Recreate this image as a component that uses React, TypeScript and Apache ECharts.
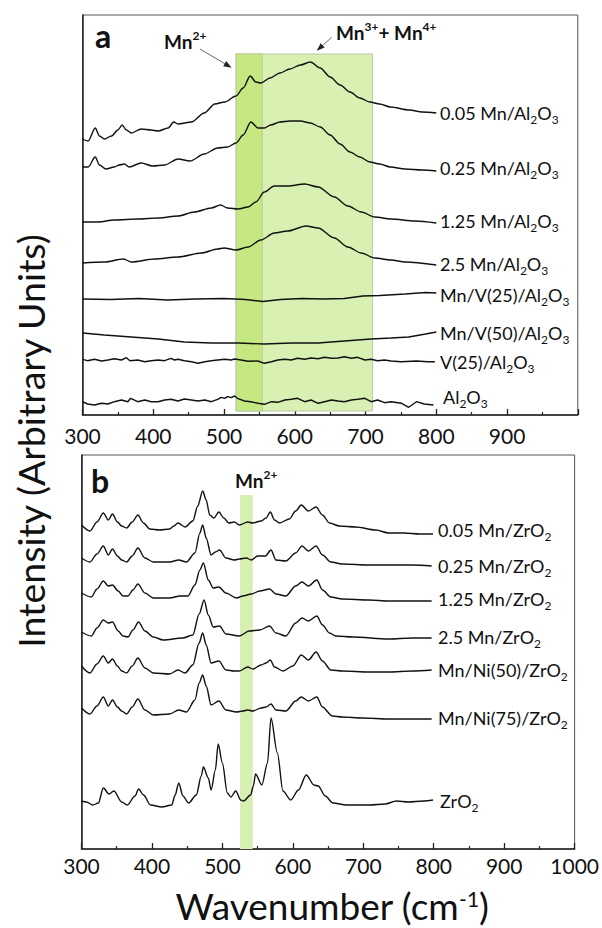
import React, { useEffect, useRef } from 'react';
import * as echarts from 'echarts';

const FONT = "Lato, 'Open Sans', sans-serif";

// ---------- Panel a: Mn/Al2O3 series  [wavenumber cm-1, stacked intensity (a.u.)]
const a_005Mn = [[300,276],[308,274],[318,287],[324,279],[331,276],[341,279],[350,285],[356,290],[362,285],[369,282],[383,286],[397,285],[407,284],[421,287],[429,293],[435,291],[454,293],[472,302],[487,311],[501,313],[517,319],[527,327],[537,339],[545,333],[552,332],[565,337],[579,342],[593,346],[608,350],[622,353],[636,347],[650,338],[664,330],[678,323],[692,317],[706,313],[720,311],[735,308],[762,305],[780,303],[800,302]];
const a_025Mn = [[300,248],[308,248],[318,258],[324,250],[333,246],[345,248],[352,250],[359,251],[366,248],[383,252],[399,249],[416,250],[435,256],[452,254],[472,261],[491,267],[505,268],[517,272],[527,280],[538,293],[548,287],[557,287],[566,290],[579,293],[593,294],[608,294],[622,292],[636,288],[650,280],[664,271],[678,263],[692,258],[706,253],[720,251],[735,248],[756,246],[780,245],[800,244]];
const a_125Mn = [[300,193],[322,193],[345,195],[378,196],[407,197],[435,199],[458,203],[482,207],[495,210],[505,207],[520,206],[534,208],[545,213],[557,223],[571,229],[590,229],[614,231],[633,228],[656,218],[675,209],[694,203],[713,198],[736,196],[770,194],[800,192]];
const a_25Mn = [[300,152],[331,153],[358,156],[369,153],[402,156],[435,158],[468,162],[491,166],[500,167],[517,165],[534,168],[552,175],[571,182],[590,184],[616,189],[633,187],[656,177],[675,168],[694,162],[713,157],[736,155],[756,153],[800,150]];
const a_MnV25 = [[300,116],[340,115.5],[380,116.5],[420,115],[460,116],[500,116.5],[530,115.5],[555,113.5],[580,115.5],[610,116.5],[640,116],[670,116.5],[696,119],[720,119.5],[756,121],[785,122.5],[800,122]];
const a_MnV50 = [[300,82],[331,80],[369,78],[407,76],[444,73],[482,72],[520,72],[557,71],[595,72],[633,72],[670,74],[708,76],[736,77],[761,78],[785,81],[800,83]];
const a_V25 = [[300,55.7],[307,54.3],[317,55.7],[327,54],[336,55],[345,56.3],[355,55],[362,57.3],[367,54.3],[378,55],[388,53.3],[397,54.3],[407,55],[416,54.3],[425,56.7],[430,55],[435,55.7],[444,54.3],[454,53.3],[463,51.7],[473,53.3],[482,54.3],[491,55],[501,55.7],[510,55],[515,56],[524,55],[534,53.7],[548,54],[557,51.7],[567,53.3],[576,55],[586,55.7],[595,55],[604,56.7],[614,55.7],[623,57],[633,56.3],[642,57.7],[652,56.7],[661,57],[670,58.3],[680,56.7],[689,57.7],[699,55],[708,55.7],[717,54.3],[727,55],[736,54],[750,53.3],[772,54],[788,53.3],[798,53.3]];
const a_Al2O3 = [[300,13.3],[307,11],[317,10],[327,11.7],[336,11],[345,13.3],[355,15],[364,13.3],[368,16.7],[378,13.3],[388,15],[397,13.3],[407,13.3],[416,15],[425,15.7],[435,14],[444,16],[454,15],[463,14],[473,15],[482,13.3],[491,15.7],[496,17.7],[501,16.7],[505,18.3],[510,17.3],[515,19],[519,16.7],[529,14],[538,13.3],[548,11.7],[557,10.7],[567,13.3],[576,12.7],[586,15],[595,15.7],[604,16.7],[614,13.3],[623,15],[633,11.7],[642,13.3],[652,15],[661,14],[670,13.3],[680,15],[689,15.7],[699,16.7],[708,13.3],[717,15],[727,12.3],[736,13.3],[751,11.7],[761,7.7],[772,13.3],[783,11],[796,10]];

// ---------- Panel b: Mn/ZrO2 series
const b_005Mn = [[300,324],[312,318],[322,327],[331,336],[338,329],[344,335],[351,327],[357,323],[364,321],[372,327],[380,334],[388,326],[397,320],[411,319],[425,320],[431,323],[437,326],[447,322],[458,328],[465,343],[472,358],[477,349],[482,334],[488,331],[495,337],[502,331],[509,326],[517,327],[524,324],[536,327],[543,326],[555,328],[562,331],[568,337],[574,329],[581,326],[595,330],[604,338],[612,344],[622,338],[633,342],[642,334],[652,326],[666,323],[689,322],[718,319],[736,316],[758,316],[780,315],[799,315]];
const b_025Mn = [[300,291],[312,287],[322,295],[331,303],[338,294],[344,300],[351,293],[357,289],[364,287],[372,293],[380,301],[390,291],[402,287],[425,287],[438,289],[449,287],[461,296],[468,316],[472,324],[477,311],[484,294],[490,297],[496,299],[505,291],[517,289],[524,290],[534,291],[541,289],[550,293],[561,293],[569,299],[576,289],[590,288],[604,296],[613,303],[622,298],[633,303],[642,294],[654,287],[670,285],[708,284],[736,284],[770,284],[797,283]];
const b_125Mn = [[300,256],[314,252],[322,260],[331,268],[338,263],[344,264],[352,258],[359,253],[366,253],[373,259],[380,265],[390,256],[402,251],[425,251],[440,253],[451,253],[461,264],[468,279],[473,286],[480,269],[487,261],[495,262],[505,256],[520,251],[529,253],[541,255],[553,258],[567,260],[576,255],[590,253],[604,263],[613,267],[622,263],[634,269],[642,259],[654,252],[670,250],[708,249],[736,248],[770,248],[797,248]];
const b_25Mn = [[300,217],[314,213],[322,221],[331,229],[338,226],[344,227],[352,218],[359,213],[366,212],[373,219],[381,227],[390,218],[402,212],[416,209],[444,211],[458,214],[467,235],[474,249],[480,234],[487,222],[496,223],[505,215],[524,213],[538,218],[553,219],[567,223],[576,216],[590,213],[604,226],[613,231],[622,228],[634,233],[642,224],[652,216],[661,213],[685,212],[736,210],[770,211],[797,211]];
const b_MnNi50 = [[300,183],[312,176],[322,185],[331,193],[338,186],[344,190],[351,183],[357,178],[364,176],[372,183],[380,191],[390,181],[402,176],[425,175],[437,179],[447,176],[458,184],[467,206],[472,216],[477,204],[484,186],[495,188],[505,179],[517,178],[524,178],[536,182],[543,180],[555,184],[562,186],[568,189],[574,182],[586,178],[600,183],[612,194],[622,189],[633,197],[642,188],[654,179],[670,178],[708,177],[736,177],[770,178],[797,179]];
const b_MnNi75 = [[300,141],[312,135],[322,143],[331,152],[338,143],[344,149],[351,142],[357,138],[364,135],[372,142],[380,150],[390,139],[402,134],[425,135],[438,139],[449,137],[461,149],[467,166],[472,174],[477,163],[484,144],[495,148],[505,139],[520,137],[529,138],[536,139],[543,138],[555,141],[562,142],[569,145],[576,139],[590,138],[604,148],[612,152],[622,148],[634,152],[642,142],[656,133],[670,132],[699,131],[736,130],[770,130],[797,130]];
const b_ZrO2 = [[300,48],[307,47],[316,44],[324,46],[331,61],[339,55],[346,58],[357,47],[365,44],[376,53],[381,60],[388,54],[398,44],[414,42],[428,44],[433,54],[438,66],[444,53],[452,46],[463,54],[470,73],[473,82],[480,71],[484,59],[490,79],[494,105],[500,86],[507,56],[512,52],[519,58],[526,49],[530,48],[540,54],[544,63],[547,75],[556,64],[564,86],[569,131],[578,96],[586,58],[597,49],[608,59],[619,74],[630,64],[636,63],[646,53],[657,46],[676,44],[709,44],[731,45],[747,48],[764,47],[785,48],[799,49]];

const seriesA = [a_005Mn, a_025Mn, a_125Mn, a_25Mn, a_MnV25, a_MnV50, a_V25, a_Al2O3];
const noisyA = [false, false, false, false, true, true, true, true];
const seriesB = [b_005Mn, b_025Mn, b_125Mn, b_25Mn, b_MnNi50, b_MnNi75, b_ZrO2];

const labelsA = [
  '{n|0.05 Mn/Al}{s|2}{n|O}{s|3}',
  '{n|0.25 Mn/Al}{s|2}{n|O}{s|3}',
  '{n|1.25 Mn/Al}{s|2}{n|O}{s|3}',
  '{n|2.5 Mn/Al}{s|2}{n|O}{s|3}',
  '{n|Mn/V(25)/Al}{s|2}{n|O}{s|3}',
  '{n|Mn/V(50)/Al}{s|2}{n|O}{s|3}',
  '{n|V(25)/Al}{s|2}{n|O}{s|3}',
  '{n|Al}{s|2}{n|O}{s|3}',
];
const labelsB = [
  '{n|0.05 Mn/ZrO}{s|2}',
  '{n|0.25 Mn/ZrO}{s|2}',
  '{n|1.25 Mn/ZrO}{s|2}',
  '{n|2.5 Mn/ZrO}{s|2}',
  '{n|Mn/Ni(50)/ZrO}{s|2}',
  '{n|Mn/Ni(75)/ZrO}{s|2}',
  '{n|ZrO}{s|2}',
];
const labelPosA = [[440,113],[440,168],[440,221],[440,264],[440,295],[440,333],[440,362],[443,397]];
const labelPosB = [[438,530],[438,566],[438,599],[438,637],[438,670],[438,718],[440,801]];

const ticksX = [300, 400, 500, 600, 700, 800, 900, 1000];
const bandLightA = [517, 710];
const bandDarkA = [517, 554];
const bandB = [525, 543];

const labelRich = {
  n: { fontSize: 18, lineHeight: 25, verticalAlign: 'middle', fontFamily: FONT, fill: '#111', color: '#111' },
  s: { fontSize: 12, lineHeight: 12, verticalAlign: 'bottom', fontFamily: FONT, fill: '#111', color: '#111' },
};
const boldRich = {
  b: { fontSize: 19, fontWeight: 'bold', lineHeight: 24, verticalAlign: 'middle', fontFamily: FONT, fill: '#111', color: '#111' },
  p: { fontSize: 12, fontWeight: 'bold', lineHeight: 12, verticalAlign: 'top', fontFamily: FONT, fill: '#111', color: '#111' },
};
const titleRich = {
  t: { fontSize: 37, lineHeight: 34, verticalAlign: 'middle', fontFamily: FONT, fill: '#111', color: '#111' },
  p: { fontSize: 21, lineHeight: 18, verticalAlign: 'top', fontFamily: FONT, fill: '#111', color: '#111' },
};

function makeAxisX(gridIndex: number, hideMax: boolean, margin: number) {
  return {
    type: 'value', gridIndex, min: ticksX[0], max: ticksX[ticksX.length - 1], interval: 100,
    axisLine: { show: true, lineStyle: { color: '#222', width: 1.5 } },
    axisTick: { show: true, inside: true, length: 6, lineStyle: { color: '#222', width: 1.3 } },
    minorTick: { show: true, splitNumber: 2, length: 3, lineStyle: { color: '#222', width: 1.2 } },
    splitLine: { show: false }, minorSplitLine: { show: false },
    axisLabel: {
      fontSize: 21, color: '#111', fontFamily: FONT, margin,
      formatter: (v: number) => (hideMax && v === ticksX[ticksX.length - 1] ? '' : String(v)),
    },
  };
}
function makeAxisY(gridIndex: number, max: number) {
  return {
    type: 'value', gridIndex, min: 0, max,
    axisLine: { show: true, lineStyle: { color: '#222', width: 1.5 } },
    axisTick: { show: false }, axisLabel: { show: false }, splitLine: { show: false },
  };
}

function arrow(x1: number, y1: number, x2: number, y2: number) {
  const dx = x2 - x1, dy = y2 - y1;
  const L = Math.sqrt(dx * dx + dy * dy);
  const ux = dx / L, uy = dy / L;
  const bx = x2 - 8 * ux, by = y2 - 8 * uy;
  const nx = -uy, ny = ux;
  return [
    { type: 'line', shape: { x1, y1, x2: bx, y2: by }, style: { stroke: '#444', lineWidth: 0.8 } },
    { type: 'polygon', shape: { points: [[x2, y2], [bx + 3 * nx, by + 3 * ny], [bx - 3 * nx, by - 3 * ny]] }, style: { fill: '#222' } },
  ];
}

export default function App() {
  const ref = useRef<HTMLDivElement>(null);
  useEffect(() => {
    document.body.style.margin = '0';
    const chart = echarts.init(ref.current!, null, { renderer: 'svg' });
    const series: any[] = [];
    seriesA.forEach((d, i) => {
      series.push({
        type: 'line', xAxisIndex: 0, yAxisIndex: 0, data: d, showSymbol: false, silent: true,
        smooth: noisyA[i] ? false : 0.3, smoothMonotone: 'x',
        lineStyle: { color: '#111', width: 1.4 }, z: 3,
        markArea: i === 0 ? {
          silent: true,
          data: [
            [{ xAxis: bandLightA[0], yAxis: 4, itemStyle: { color: '#d8f0b1', borderColor: '#b9c9a9', borderWidth: 1 } }, { xAxis: bandLightA[1], yAxis: 361 }],
            [{ xAxis: bandDarkA[0], yAxis: 4, itemStyle: { color: '#c5e883', borderColor: '#b4cf95', borderWidth: 1 } }, { xAxis: bandDarkA[1], yAxis: 361 }],
          ],
        } : undefined,
      });
    });
    seriesB.forEach((d, i) => {
      series.push({
        type: 'line', xAxisIndex: 1, yAxisIndex: 1, data: d, showSymbol: false, silent: true,
        smooth: 0.3, smoothMonotone: 'x',
        lineStyle: { color: '#111', width: 1.4 }, z: 3,
        markArea: i === 0 ? {
          silent: true,
          data: [[{ xAxis: bandB[0], yAxis: 0, itemStyle: { color: '#d7efb0' } }, { xAxis: bandB[1], yAxis: 354 }]],
        } : undefined,
      });
    });

    const graphics: any[] = [
      { type: 'text', x: 30, y: 441, rotation: Math.PI / 2, style: { text: 'Intensity (Arbitrary Units)', fontSize: 37.5, fontFamily: FONT, fill: '#111', align: 'center', verticalAlign: 'middle' } },
      { type: 'text', x: 332, y: 905, style: { text: '{t|Wavenumber (cm}{p|-1}{t|)}', rich: titleRich, align: 'center', verticalAlign: 'middle' } },
      { type: 'text', x: 103, y: 35, style: { text: 'a', fontSize: 32, fontWeight: 'bold', fontFamily: FONT, fill: '#111', align: 'center', verticalAlign: 'middle' } },
      { type: 'text', x: 100, y: 480, style: { text: 'b', fontSize: 32, fontWeight: 'bold', fontFamily: FONT, fill: '#111', align: 'center', verticalAlign: 'middle' } },
      { type: 'text', x: 164, y: 41, style: { text: '{b|Mn}{p|2+}', rich: boldRich, align: 'left', verticalAlign: 'middle' } },
      { type: 'text', x: 336, y: 32, style: { text: '{b|Mn}{p|3+}{b|+ Mn}{p|4+}', rich: boldRich, align: 'left', verticalAlign: 'middle' } },
      { type: 'text', x: 235, y: 480, style: { text: '{b|Mn}{p|2+}', rich: boldRich, align: 'left', verticalAlign: 'middle' } },
      ...arrow(200, 49, 231.6, 67.7),
      ...arrow(331.7, 37.3, 316.7, 50.7),
    ];
    labelsA.forEach((t, i) => {
      graphics.push({ type: 'text', x: labelPosA[i][0], y: labelPosA[i][1], style: { text: t, rich: labelRich, align: 'left', verticalAlign: 'middle' } });
    });
    labelsB.forEach((t, i) => {
      graphics.push({ type: 'text', x: labelPosB[i][0], y: labelPosB[i][1], style: { text: t, rich: labelRich, align: 'left', verticalAlign: 'middle' } });
    });

    chart.setOption({
      animation: false,
      backgroundColor: '#fff',
      grid: [
        { left: 82.5, top: 15, width: 495.3, height: 400, show: true, borderColor: '#555', borderWidth: 1, backgroundColor: 'transparent' },
        { left: 81.5, top: 455, width: 494.7, height: 394, show: true, borderColor: '#555', borderWidth: 1, backgroundColor: 'transparent' },
      ],
      xAxis: [makeAxisX(0, true, 10), makeAxisX(1, false, 6)],
      yAxis: [makeAxisY(0, 400), makeAxisY(1, 394)],
      series,
      graphic: graphics,
    });
    return () => chart.dispose();
  }, []);
  return <div ref={ref} style={{ width: 602, height: 928 }} />;
}
